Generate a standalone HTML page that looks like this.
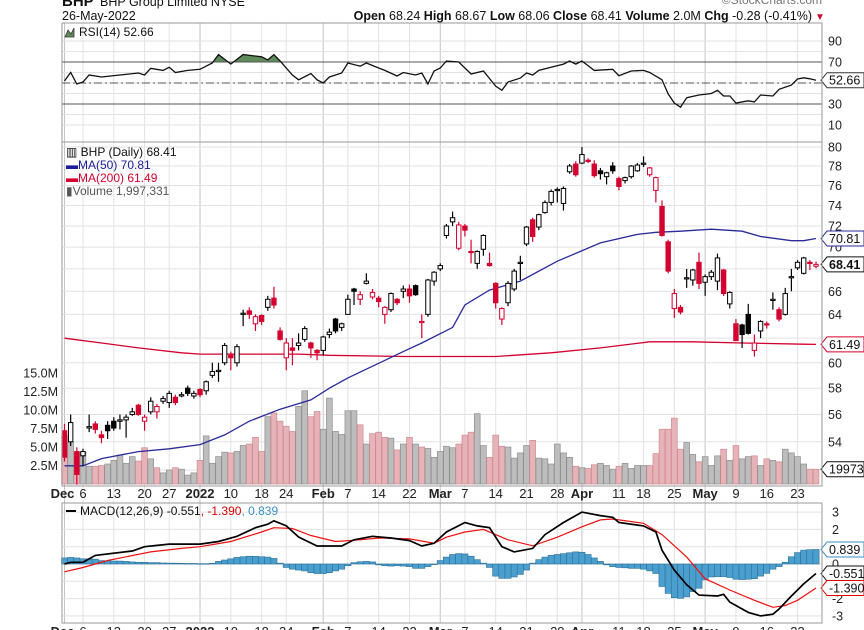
<!DOCTYPE html>
<html><head><meta charset="utf-8"><style>
html,body{margin:0;padding:0;background:#fff;}
svg{display:block;font-family:"Liberation Sans",sans-serif;}
</style></head><body>
<svg id="chart" width="864" height="630" viewBox="0 0 864 630" xmlns="http://www.w3.org/2000/svg">
<rect x="0" y="0" width="864" height="630" fill="#fff"/>
<g font-size="12.5" fill="#111">
<text x="62" y="6" font-size="15" font-weight="bold">BHP</text>
<text x="100" y="6" font-size="12.5">BHP Group Limited NYSE</text>
<text x="822" y="4" text-anchor="end" font-size="12" fill="#777">©StockCharts.com</text>
<text x="62" y="20">26-May-2022</text>
<text x="812" y="20" text-anchor="end"><tspan font-weight="bold">Open</tspan> 68.24  <tspan font-weight="bold">High</tspan> 68.67  <tspan font-weight="bold">Low</tspan> 68.06  <tspan font-weight="bold">Close</tspan> 68.41  <tspan font-weight="bold">Volume</tspan> 2.0M  <tspan font-weight="bold">Chg</tspan> -0.28 (-0.41%)</text>
<text x="815" y="20" fill="#c8102e" font-size="10">▼</text>
</g>
<g id="grid"></g>
<g id="rsi"></g>
<g id="price"></g>
<g id="macd"></g>
<g id="axes"></g>
<rect x="62" y="23" width="760" height="119" fill="none" stroke="#999"/>
<rect x="62" y="142" width="760" height="344" fill="none" stroke="#999"/>
<rect x="62" y="503" width="760" height="120" fill="none" stroke="#999"/>
<g font-size="12">
<text x="66" y="156" fill="#111">▥ BHP (Daily) 68.41</text>
<text x="66" y="169" fill="#1a1a9a">▬MA(50) 70.81</text>
<text x="66" y="182" fill="#d4002f">▬MA(200) 61.49</text>
<text x="66" y="195" fill="#555">▮Volume 1,997,331</text>
</g>
<g font-size="12">
<path d="M65 37 L68 30 L71 34 L74 28 L74 37 Z" fill="#5f8a5a" stroke="#333" stroke-width="0.8"/>
<text x="79" y="36" fill="#111">RSI(14) 52.66</text>
</g>
<g font-size="12">
<rect x="66" y="510" width="10" height="2" fill="#000"/>
<text x="80" y="515" fill="#111">MACD(12,26,9) -0.551<tspan fill="#e00000">, -1.390</tspan><tspan fill="#3a8fc4">, 0.839</tspan></text>
</g>
</svg>
<script>
// ---------- data ----------
const openP=[54.8,54.0,53.3,53.0,55.0,55.3,54.5,55.2,55.5,55.5,55.6,56.0,56.7,55.5,56.2,56.2,57.0,56.9,57.3,57.4,58.0,57.4,57.9,57.8,59.0,59.3,60.0,60.6,60.0,64.0,64.3,63.2,63.9,64.6,65.4,62.6,60.4,61.2,61.4,61.9,61.6,61.0,61.0,62.3,63.6,62.9,64.0,66.2,65.3,66.7,65.5,65.4,64.0,64.4,65.3,66.0,66.2,66.5,63.3,64.0,66.9,68.0,71.1,72.4,69.9,72.0,69.6,68.5,69.8,68.5,66.7,63.6,65.0,66.2,68.5,70.3,72.6,71.9,73.3,74.3,75.5,74.2,77.4,78.2,78.3,78.6,78.2,77.5,76.9,78.0,76.7,76.5,76.9,77.5,78.2,77.1,75.5,73.9,70.5,64.5,64.6,67.1,67.0,68.6,66.8,67.3,66.9,67.9,64.9,63.2,63.1,64.0,61.0,62.6,63.2,65.2,64.4,64.0,67.2,68.1,67.6,68.6,68.24];
const highP=[55.3,56.0,53.6,53.5,56.0,55.5,54.8,55.5,55.8,56.0,56.0,56.5,56.8,56.0,57.3,56.8,57.4,57.8,57.5,57.7,58.2,57.8,58.0,58.6,60.0,60.0,61.6,60.9,61.5,64.4,64.6,64.0,64.0,65.6,66.4,62.9,62.0,62.0,62.4,63.0,61.7,61.1,62.2,62.8,63.7,63.3,65.7,66.3,66.0,67.6,66.2,65.6,64.7,65.9,65.4,66.5,66.6,66.6,64.0,67.1,67.8,68.5,72.2,73.4,72.4,72.2,70.7,69.7,71.2,69.5,66.8,64.6,66.9,68.0,69.2,72.0,72.8,73.2,74.5,75.6,75.8,75.9,78.2,78.5,80.0,78.8,78.6,77.8,77.4,78.4,76.9,76.9,78.1,78.3,79.0,77.9,76.9,74.5,70.7,66.2,64.8,68.0,68.0,69.5,67.5,67.9,69.4,68.0,66.0,63.6,63.2,64.9,62.3,63.5,63.4,65.9,64.6,66.3,68.0,68.8,69.1,68.8,68.67];
const lowP=[52.6,53.7,51.0,52.3,54.7,54.6,53.9,54.2,54.8,54.9,54.3,55.9,55.9,54.8,56.0,55.7,56.8,56.5,56.7,57.3,57.4,57.2,57.3,57.5,58.8,58.5,59.8,59.4,59.7,63.0,63.6,62.6,63.1,64.3,64.5,61.8,59.4,59.8,61.0,61.7,60.4,60.2,60.6,62.0,62.4,62.6,64.0,64.8,64.8,66.6,65.3,64.6,63.2,64.2,64.8,65.4,65.0,65.6,62.0,63.8,66.5,67.8,70.8,72.0,69.7,71.0,68.5,68.0,69.2,68.2,64.5,63.1,64.7,66.0,67.0,70.1,70.5,71.6,73.2,74.0,74.3,73.5,77.2,76.9,78.2,78.3,76.8,76.6,76.1,77.2,75.5,76.2,76.7,77.4,77.9,76.9,74.3,71.0,67.6,63.7,64.0,66.3,66.5,66.2,65.6,67.0,66.1,65.6,64.5,61.8,61.2,62.3,60.5,62.0,62.8,64.4,63.4,63.9,66.0,67.9,67.5,67.9,68.06];
const closeP=[52.9,55.4,51.7,53.3,55.1,54.9,54.3,54.8,55.0,55.6,55.8,56.2,56.0,55.8,57.0,56.6,57.2,57.6,56.9,57.5,57.6,57.6,57.5,58.5,59.3,59.4,61.4,60.4,61.3,64.1,64.0,63.8,63.4,65.3,64.8,61.9,61.6,61.0,61.6,62.8,61.2,60.8,62.1,62.5,62.6,63.2,65.3,66.0,65.7,66.9,65.9,65.1,64.6,65.8,65.0,66.2,65.6,65.7,63.4,67.0,67.7,68.3,72.0,72.8,72.1,71.6,69.5,69.6,71.1,68.3,65.0,64.5,66.7,67.8,68.6,71.9,71.0,73.1,74.3,75.4,75.6,75.7,78.0,77.1,79.2,78.5,77.0,77.2,77.3,77.5,75.9,76.8,78.0,78.1,78.3,77.8,76.8,71.1,67.8,65.8,64.2,67.2,67.9,66.7,67.3,67.7,69.0,65.8,65.9,61.8,62.3,62.4,61.6,63.4,63.1,65.3,63.6,65.8,67.3,68.6,69.0,68.5,68.41];
const volumeM=[6.6,5.7,4.3,4.3,2.4,2.4,2.5,2.7,3.2,3.9,2.8,3.7,3.1,4.9,3.4,2.2,1.5,1.9,2.2,2.0,1.2,1.5,3.2,6.5,2.8,3.7,4.3,4.2,4.4,5.2,5.4,6.3,4.4,9.1,9.6,8.5,7.8,7.1,10.5,12.6,9.1,9.8,7.4,11.6,7.1,6.7,9.9,9.9,8.0,5.4,6.8,7.0,6.3,6.2,4.6,5.4,6.3,5.4,5.0,4.8,3.6,4.4,5.1,4.9,5.4,6.6,7.0,9.5,5.2,3.6,6.6,5.1,5.0,3.5,4.2,5.2,5.9,3.5,3.4,2.7,5.4,4.2,3.6,2.4,2.2,2.1,2.6,2.8,2.5,2.0,2.4,2.8,2.1,2.5,2.5,2.5,4.1,7.4,7.4,8.9,4.7,5.6,4.0,3.0,3.7,2.5,3.8,4.7,3.2,5.2,3.4,3.7,3.8,2.5,3.4,3.2,3.0,4.7,4.2,3.7,2.7,2.0,2.0];
const ma50Idx=[0,3,6,12,17,22,26,30,35,40,43,46,55,58,63,65,69,74,80,87,93,96,100,105,110,113,118,120,122];
const ma50Val=[52.3,52.3,52.8,53.3,53.5,53.8,54.5,55.5,56.4,57.1,58.0,58.8,60.9,61.6,62.9,64.8,66.1,66.9,68.7,70.4,71.2,71.4,71.5,71.7,71.5,71.0,70.6,70.6,70.81];
const ma200Idx=[0,6,12,19,22,32,38,43,55,63,70,79,87,95,102,110,120,122];
const ma200Val=[62.0,61.6,61.2,60.8,60.7,60.7,60.7,60.6,60.5,60.5,60.5,60.8,61.2,61.7,61.7,61.6,61.5,61.49];
const rsiIdx=[0,1,2,3,4,6,9,12,13,14,16,17,18,20,22,24,25,27,29,32,33,34,35,37,38,40,41,42,43,45,46,48,49,52,54,55,57,58,59,60,61,62,64,66,68,70,71,72,74,75,76,77,79,81,82,83,84,86,89,90,92,94,95,97,98,99,100,101,103,105,106,107,108,109,111,112,113,115,116,118,119,120,121,122];
const rsiVal=[52,60,49,51,57.6,55.7,57.6,59.5,57.6,64,62,65,60,62,63,69,77,68,77,75,72,77,71,57.6,53,59,53,50,55.7,59.5,69,66,69,62,56.7,60,57.6,59.5,49,61.4,64.3,71,70,58.6,61.4,47,43,51,54.7,59.5,57.6,62,65,68,71,68,71,62,63,57,61.4,62,60,53,39.5,31,27,36,38.6,40,43,37.6,37.6,31,33,32,38.6,37.6,44,48,53.8,55,54,52.66];
const macdIdx=[0,1,3,5,11,13,17,22,25,28,31,33,34,36,38,41,45,47,50,53,56,58,60,62,65,67,69,71,73,76,78,81,84,87,89,90,94,96,97,99,101,103,106,107,108,111,113,115,116,118,120,122];
const macdVal=[0,0.1,0.1,0.5,0.75,1.0,1.15,1.15,1.3,1.6,2.1,2.3,2.5,2.2,1.56,1.04,1.04,1.4,1.6,1.5,1.35,1.04,1.2,1.85,2.4,2.2,2.1,1.0,0.7,0.9,1.7,2.4,3.0,2.8,2.7,2.4,2.2,1.85,0.8,-0.35,-1.2,-1.8,-1.85,-1.75,-2.2,-2.8,-3.0,-2.9,-2.6,-1.85,-1.15,-0.551];
const signalIdx=[0,3,7,14,19,22,27,32,34,37,40,44,48,51,56,60,62,65,68,72,76,80,84,87,89,94,97,101,104,108,112,115,117,119,122];
const signalVal=[-0.45,-0.2,0.2,0.7,0.9,1.0,1.3,1.85,2.1,2.05,1.65,1.3,1.4,1.5,1.45,1.2,1.55,1.85,2.0,1.4,1.05,1.55,2.15,2.55,2.6,2.35,1.7,0.4,-0.85,-1.5,-2.1,-2.5,-2.4,-2.1,-1.39];
const histVal=[0.35,0.38,0.35,0.3,0.3,0.28,0.2,0.18,0.17,0.17,0.15,0.12,0.1,0.1,0.08,0.08,0.06,0.05,0.05,0.04,0.03,0.03,0.02,0.02,0.04,0.15,0.23,0.3,0.38,0.42,0.45,0.44,0.42,0.4,0.32,0.05,-0.2,-0.3,-0.35,-0.4,-0.5,-0.55,-0.55,-0.5,-0.4,-0.3,-0.1,0.08,0.13,0.15,0.12,-0.05,-0.1,-0.12,-0.1,-0.12,-0.15,-0.25,-0.25,-0.15,0.0,0.2,0.4,0.55,0.6,0.58,0.45,0.25,0.05,-0.2,-0.7,-0.83,-0.83,-0.75,-0.6,-0.35,0.05,0.25,0.4,0.5,0.55,0.6,0.65,0.7,0.68,0.55,0.35,0.15,-0.05,-0.15,-0.2,-0.22,-0.25,-0.25,-0.3,-0.4,-0.55,-1.3,-1.7,-1.95,-1.98,-1.9,-1.6,-1.4,-0.92,-0.75,-0.73,-0.73,-0.78,-0.88,-0.9,-0.88,-0.85,-0.7,-0.54,-0.3,-0.15,0.1,0.42,0.66,0.8,0.83,0.839];
const priceTicks=[80,78,76,74,72,70,66,64,60,58,56,54];
const priceGrid=[80,78,76,74,72,70,68,66,64,62,60,58,56,54,52];
const volTicks=[2.5,5,7.5,10,12.5,15];
const rsiTicks=[90,70,30,10];
const macdTicks=[3,2,0,-2,-3];
const dateIdx=[0,3,8,13,17,22,27,32,36,42,46,51,56,61,65,70,75,80,84,90,94,99,104,109,114,119];
const dateLabels=["Dec","6","13","20","27","2022","10","18","24","Feb","7","14","22","Mar","7","14","21","28","Apr","11","18","25","May","9","16","23"];
const dateBold=[1,0,0,0,0,1,0,0,0,1,0,0,0,1,0,0,0,0,1,0,0,0,1,0,0,0];

// ---------- scales ----------
const NS="http://www.w3.org/2000/svg";
const X=i=>64.5+6.16*i;
const PY=p=>147+750*Math.log(80/p);
const VY=v=>484-v*7.4;
const RY=v=>62+(70-v)*1.05;
const MY=v=>564-v*17.3;
function mk(tag,attrs,parent){const e=document.createElementNS(NS,tag);for(const k in attrs)e.setAttribute(k,attrs[k]);parent.appendChild(e);return e;}
const gGrid=document.getElementById('grid'),gR=document.getElementById('rsi'),gP=document.getElementById('price'),gM=document.getElementById('macd'),gA=document.getElementById('axes');
const RED="#d4002f";

// vertical grid
dateIdx.forEach((d,k)=>{
  const l=mk('line',{x1:X(d),x2:X(d),y1:23,y2:623,stroke:dateBold[k]?'#c4c4c4':'#e2e2e2','stroke-width':1},gGrid);
  
  
});
// horizontal grids
priceGrid.forEach(p=>{const l=mk('line',{x1:62,x2:822,y1:PY(p),y2:PY(p),stroke:'#e2e2e2'},gGrid);
  
  });
[10,20,30,40,50,60,70,80,90].forEach(v=>{const l=mk('line',{x1:62,x2:822,y1:RY(v),y2:RY(v),stroke:'#e2e2e2'},gGrid);
  
  });
[3,2,1,0,-1,-2,-3].forEach(v=>{const l=mk('line',{x1:62,x2:822,y1:MY(v),y2:MY(v),stroke:'#e2e2e2'},gGrid);
  
  });

// ---------- RSI ----------
mk('clipPath',{id:'rsiTop'},gR).appendChild((()=>{const r=document.createElementNS(NS,'rect');r.setAttribute('x',62);r.setAttribute('y',23);r.setAttribute('width',760);r.setAttribute('height',RY(70)-23);return r;})());
let rsiD=rsiIdx.map((d,k)=>(k?'L':'M')+X(d).toFixed(1)+' '+RY(rsiVal[k]).toFixed(1)).join(' ');
const rf=mk('path',{d:rsiD+` L${X(rsiIdx[rsiIdx.length-1])} ${RY(70)} L${X(rsiIdx[0])} ${RY(70)} Z`,fill:'#5f8a5a','clip-path':'url(#rsiTop)'},gR);


[70,30].forEach(v=>{const l=mk('line',{x1:62,x2:822,y1:RY(v),y2:RY(v),stroke:'#555','stroke-width':1},gR);
  
  });
const mid=mk('line',{x1:62,x2:822,y1:RY(50),y2:RY(50),stroke:'#555','stroke-dasharray':'8 3 2 3'},gR);


const rl=mk('path',{d:rsiD,fill:'none',stroke:'#111','stroke-width':1.3},gR);



// ---------- price: volume ----------
volumeM.forEach((v,i)=>{
  const down=i>0?closeP[i]<closeP[i-1]:true;
  const r=mk('rect',{x:X(i)-2.9,y:VY(v),width:5.8,height:484-VY(v),fill:down?'#e6b3b8':'#bdbdbd',stroke:down?'#d08a92':'#8e8e8e','stroke-width':0.7},gP);
  
  
});
function line(idx,val,yf,color,w,name,parent){
  const d=idx.map((ii,k)=>(k?'L':'M')+X(ii).toFixed(1)+' '+yf(val[k]).toFixed(1)).join(' ');
  const p=mk('path',{d:d,fill:'none',stroke:color,'stroke-width':w},parent);
  
  
}
line(ma200Idx,ma200Val,PY,'#d4002f',1.3,'ma200-line',gP);
line(ma50Idx,ma50Val,PY,'#2a2a9a',1.3,'ma50-line',gP);
// candles
closeP.forEach((c,i)=>{
  const o=openP[i],h=highP[i],l=lowP[i];
  const down=i>0?c<closeP[i-1]:true;
  const col=down?RED:'#000';
  const filled=c<o;
  const g=mk('g',{},gP);
  
  
  mk('line',{x1:X(i),x2:X(i),y1:PY(h),y2:PY(l),stroke:col,'stroke-width':1.2},g);
  const top=PY(Math.max(o,c)),bot=PY(Math.min(o,c));
  const hgt=Math.max(bot-top,1.2);
  mk('rect',{x:X(i)-2.2,y:top,width:4.4,height:hgt,fill:filled?col:'#fff',stroke:col,'stroke-width':1},g);
});

// ---------- MACD ----------
histVal.forEach((v,i)=>{
  const y0=MY(0),y1=MY(v);
  const r=mk('rect',{x:X(i)-3.08,y:Math.min(y0,y1),width:6.16,height:Math.max(Math.abs(y1-y0),0.6),fill:'#4a9fcf',stroke:'#2c6f99','stroke-width':0.6},gM);
  
  
});
line(signalIdx,signalVal,MY,'#f01010',1.2,'macd-signal-line',gM);
line(macdIdx,macdVal,MY,'#000',1.7,'macd-line',gM);

// ---------- axes ----------
function txt(x,y,s,attrs,name){const t=mk('text',Object.assign({x:x,y:y,'font-size':12.5,fill:'#222'},attrs||{}),gA);t.textContent=s;
  
  return t;}
rsiTicks.forEach(v=>txt(828,RY(v)+4.5,String(v),{},'rsi-tick-label'));
priceTicks.forEach(v=>txt(828,PY(v)+4.5,String(v),{},'price-tick-label'));
volTicks.forEach(v=>txt(58,VY(v)+4.5,v.toFixed(1)+'M',{'text-anchor':'end'},'volume-tick-label'));
macdTicks.forEach(v=>txt(832,MY(v)+4.5,String(v),{},'macd-tick-label'));
dateIdx.forEach((d,k)=>{
  const xx=k===0?X(d)-2:X(d);
  txt(xx,498,dateLabels[k],{'text-anchor':'middle','font-weight':dateBold[k]?'bold':'normal','font-size':13},'date-label');
  txt(xx,636,dateLabels[k],{'text-anchor':'middle','font-weight':dateBold[k]?'bold':'normal','font-size':13},'date-label-bottom');
});
// value tags
function tag(y,s,color,bold,name){
  const g=mk('g',{},gA);
  
  
  mk('path',{d:`M821 ${y} L827 ${y-7.5} L864 ${y-7.5} L864 ${y+7.5} L827 ${y+7.5} Z`,fill:'#fff',stroke:color,'stroke-width':1},g);
  const t=mk('text',{x:829,y:y+4.5,'font-size':12.5,fill:'#111','font-weight':bold?'bold':'normal'},g);t.textContent=s;
}
tag(RY(rsiVal[rsiVal.length-1]),'52.66','#333',false,'rsi-value-tag');
tag(PY(ma50Val[ma50Val.length-1]),'70.81','#2a2a9a',false,'ma50-value-tag');
tag(PY(closeP[closeP.length-1]),'68.41','#111',true,'close-value-tag');
tag(PY(ma200Val[ma200Val.length-1]),'61.49','#d4002f',false,'ma200-value-tag');
tag(VY(volumeM[volumeM.length-1]),'1997331','#111',false,'volume-value-tag');
tag(MY(histVal[histVal.length-1]),'0.839','#3a8fc4',false,'histogram-value-tag');
tag(MY(macdVal[macdVal.length-1]),'-0.551','#111',false,'macd-value-tag');
tag(MY(signalVal[signalVal.length-1]),'-1.390','#e00000',false,'signal-value-tag');
</script>
</body></html>
